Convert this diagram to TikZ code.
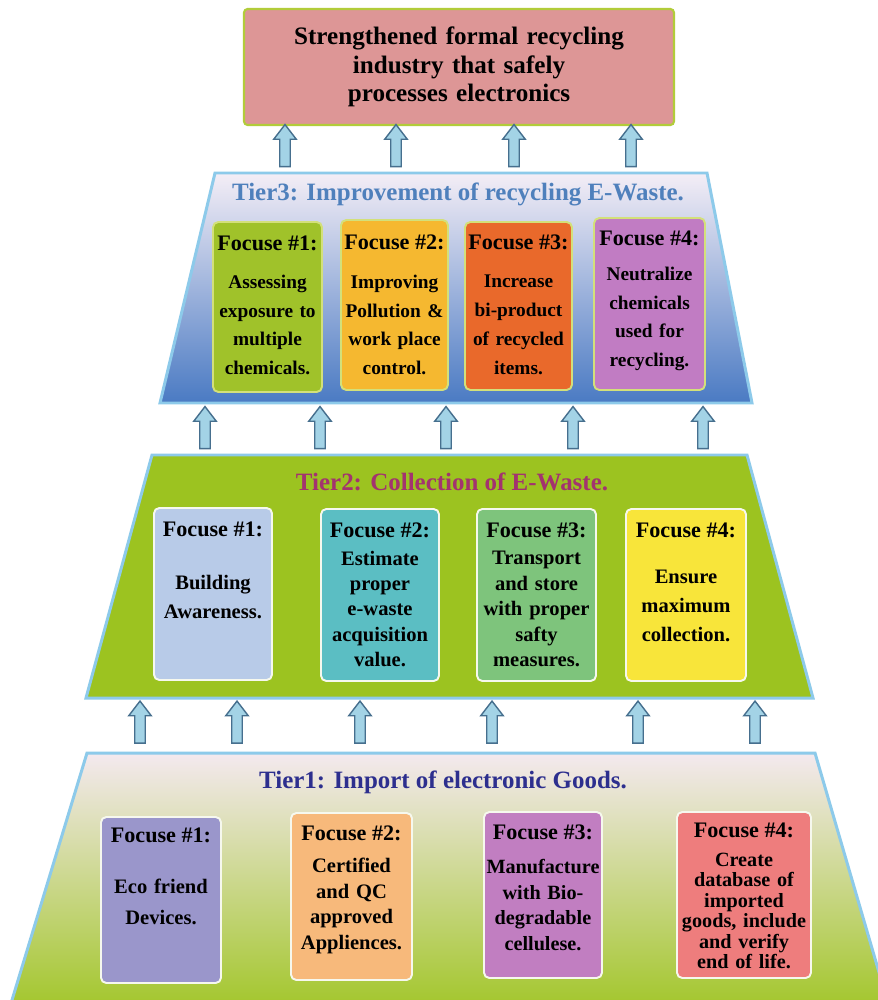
\documentclass[tikz,border=0pt]{standalone}
\usepackage{fontspec}
\setmainfont{Liberation Serif}
\usetikzlibrary{shapes.arrows}

\definecolor{goalfill}{HTML}{DD9696}
\definecolor{goaledge}{HTML}{B2CC3A}
\definecolor{tieredge}{HTML}{8DCAEA}
\definecolor{arrowfill}{HTML}{A3D3E6}
\definecolor{arrowedge}{HTML}{466F8E}
\definecolor{tthreetop}{HTML}{F4EEF6}
\definecolor{tthreemid}{HTML}{C2CCEC}
\definecolor{tthreebot}{HTML}{4A7AC3}
\definecolor{ttwofill}{HTML}{9CC320}
\definecolor{tonetop}{HTML}{F4E9EF}
\definecolor{tonebot}{HTML}{A2C62A}
\definecolor{tthreetext}{HTML}{4F80BC}
\definecolor{ttwotext}{HTML}{A3336F}
\definecolor{tonetext}{HTML}{2D2F8E}
\definecolor{tthreerim}{HTML}{D3E07A}
\definecolor{lowrim}{HTML}{F6F8EE}
% focus box fills
\definecolor{fgreen}{HTML}{A0C22A}
\definecolor{fyellow}{HTML}{F5B830}
\definecolor{forange}{HTML}{E9692B}
\definecolor{fmauve}{HTML}{C17CC3}
\definecolor{fsky}{HTML}{B8CBE8}
\definecolor{fteal}{HTML}{5BBEC3}
\definecolor{fleaf}{HTML}{7EC47C}
\definecolor{flemon}{HTML}{F8E53A}
\definecolor{flilac}{HTML}{9A96CB}
\definecolor{fpeach}{HTML}{F7B97B}
\definecolor{fplum}{HTML}{C17EC1}
\definecolor{fsalmon}{HTML}{EE7D7D}

\tikzset{
  goalbox/.style={draw=goaledge,line width=1.2pt,fill=goalfill,rounded corners=2pt,minimum width=8.6cm,minimum height=2.32cm,text width=8.2cm,align=center,font=\rmfamily\bfseries\fontsize{14.3}{16.4}\selectfont},
  tierline/.style={draw=tieredge,line width=1.7pt,line join=miter},
  tiertitle/.style={inner sep=0pt,font=\rmfamily\bfseries\fontsize{14.2}{17}\selectfont},
  focusbox/.style={rounded corners=3pt,line width=1.1pt,inner sep=0pt},
  focushead/.style={inner sep=0pt,font=\rmfamily\bfseries\fontsize{12.6}{15}\selectfont},
  focustext/.style 2 args={inner sep=0pt,text width=2.7cm,align=center,font=\rmfamily\bfseries\fontsize{#1}{#2}\selectfont},
  upblock/.style={single arrow,rotate=90,draw=arrowedge,fill=arrowfill,line width=0.8pt,minimum height=0.84cm,inner sep=2.6pt,single arrow head extend=0.12cm,single arrow tip angle=75}
}

\begin{document}
\begin{tikzpicture}[x=0.02cm,y=-0.02cm]
\clip (0,0) rectangle (878,1000);
\fill[white] (0,0) rectangle (878,1000);

% goal
\node[goalbox] (goal) at (459,67) {Strengthened formal recycling\\industry that safely\\processes electronics};

% tier 3
\shadedraw[tierline,top color=tthreetop,middle color=tthreemid,bottom color=tthreebot] (215,173) -- (707,173) -- (752,403) -- (160,403) -- cycle;
\node[tiertitle,text=tthreetext] (tier3) at (458,194) {Tier3: Improvement of recycling E-Waste.};
\node[focusbox,draw=tthreerim,fill=fgreen,minimum width=2.18cm,minimum height=3.4cm] (t3f1) at (267.5,307) {};
\node[focusbox,draw=tthreerim,fill=fyellow,minimum width=2.14cm,minimum height=3.4cm] (t3f2) at (394.5,305) {};
\node[focusbox,draw=tthreerim,fill=forange,minimum width=2.14cm,minimum height=3.36cm] (t3f3) at (518.5,306) {};
\node[focusbox,draw=tthreerim,fill=fmauve,minimum width=2.22cm,minimum height=3.44cm] (t3f4) at (649.5,304) {};
\node[focushead] (t3h1) at (267.5,243) {Focuse \#1:};
\node[focushead] (t3h2) at (394.5,242) {Focuse \#2:};
\node[focushead] (t3h3) at (518.5,242) {Focuse \#3:};
\node[focushead] (t3h4) at (649.5,238) {Focuse \#4:};
\node[focustext={11}{16.4}] (t3d1) at (267.5,325) {Assessing\\exposure to\\multiple\\chemicals.};
\node[focustext={11}{16.4}] (t3d2) at (394.5,325) {Improving\\Pollution \&\\work place\\control.};
\node[focustext={11}{16.4}] (t3d3) at (518.5,325) {Increase\\bi-product\\of recycled\\items.};
\node[focustext={11}{16.4}] (t3d4) at (649.5,319) {Neutralize\\chemicals\\used for\\recycling.};

% tier 2
\draw[tierline,fill=ttwofill] (152,455) -- (747,455) -- (813,698) -- (86,698) -- cycle;
\node[tiertitle,text=ttwotext] (tier2) at (452,482) {Tier2: Collection of E-Waste.};
\node[focusbox,draw=lowrim,fill=fsky,minimum width=2.36cm,minimum height=3.44cm] (t2f1) at (213,594) {};
\node[focusbox,draw=lowrim,fill=fteal,minimum width=2.36cm,minimum height=3.44cm] (t2f2) at (380,595) {};
\node[focusbox,draw=lowrim,fill=fleaf,minimum width=2.38cm,minimum height=3.44cm] (t2f3) at (536.5,595) {};
\node[focusbox,draw=lowrim,fill=flemon,minimum width=2.4cm,minimum height=3.44cm] (t2f4) at (686,595) {};
\node[focushead] (t2h1) at (213,529) {Focuse \#1:};
\node[focushead] (t2h2) at (380,530) {Focuse \#2:};
\node[focushead] (t2h3) at (536.5,530) {Focuse \#3:};
\node[focushead] (t2h4) at (686,530) {Focuse \#4:};
\node[focustext={11.7}{16.6}] (t2d1) at (213,597) {Building\\Awareness.};
\node[focustext={11.7}{14.5}] (t2d2) at (380,609) {Estimate\\proper\\e-waste\\acquisition\\value.};
\node[focustext={11.7}{14.5}] (t2d3) at (536.5,609) {Transport\\and store\\with proper\\safty\\measures.};
\node[focustext={11.7}{16.4}] (t2d4) at (686,606) {Ensure\\maximum\\collection.};

% tier 1
\shadedraw[tierline,top color=tonetop,bottom color=tonebot] (87,753) -- (815,753) -- (890,1010) -- (9,1010) -- cycle;
\node[tiertitle,text=tonetext] (tier1) at (443,782) {Tier1: Import of electronic Goods.};
\node[focusbox,draw=lowrim,fill=flilac,minimum width=2.4cm,minimum height=3.32cm] (t1f1) at (161,900) {};
\node[focusbox,draw=lowrim,fill=fpeach,minimum width=2.42cm,minimum height=3.34cm] (t1f2) at (351.5,896.5) {};
\node[focusbox,draw=lowrim,fill=fplum,minimum width=2.36cm,minimum height=3.32cm] (t1f3) at (543,895) {};
\node[focusbox,draw=lowrim,fill=fsalmon,minimum width=2.68cm,minimum height=3.32cm] (t1f4) at (744,895) {};
\node[focushead] (t1h1) at (161,835) {Focuse \#1:};
\node[focushead] (t1h2) at (351.5,833) {Focuse \#2:};
\node[focushead] (t1h3) at (543,832) {Focuse \#3:};
\node[focushead] (t1h4) at (744,830) {Focuse \#4:};
\node[focustext={11.7}{17.6}] (t1d1) at (161,902) {Eco friend\\Devices.};
\node[focustext={11.7}{14.6}] (t1d2) at (351.5,906) {Certified\\and QC\\approved\\Appliences.};
\node[focustext={11.5}{14.6}] (t1d3) at (543,905) {Manufacture\\with Bio-\\degradable\\cellulese.};
\node[focustext={11.5}{11.7}] (t1d4) at (744,911) {Create\\database of\\imported\\goods, include\\and verify\\end of life.};

% block arrows between the tiers
\foreach \x [count=\i] in {285,396,514,631}
  \node[upblock] (upgoal\i) at (\x,149) {};
\foreach \x [count=\i] in {205,320,446,573,703}
  \node[upblock] (upthree\i) at (\x,431) {};
\foreach \x [count=\i] in {140,237,360,492,638,755}
  \node[upblock] (uptwo\i) at (\x,725.5) {};
\end{tikzpicture}
\end{document}
